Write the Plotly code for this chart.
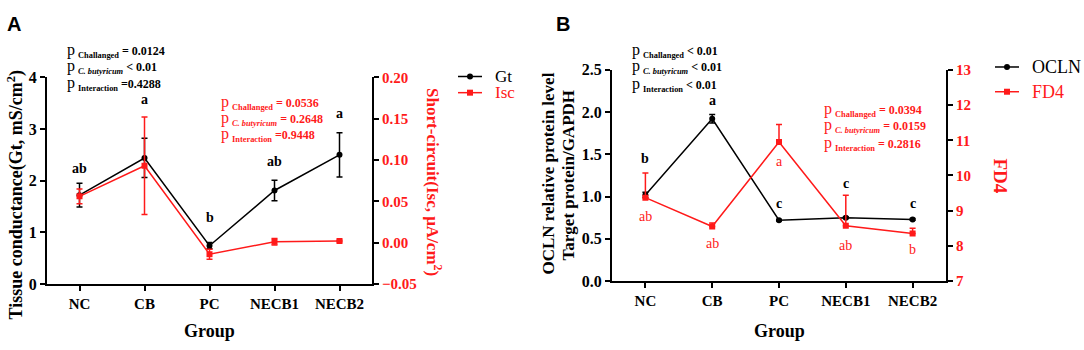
import plotly.graph_objects as go

W, H = 1084, 350
RED = "#FF1A1A"
SERIF = "Liberation Serif"

# ---------------- data ----------------
groups = ["NC", "CB", "PC", "NECB1", "NECB2"]

gt = [1.72, 2.44, 0.74, 1.81, 2.50]
gt_err = [0.23, 0.38, 0.06, 0.20, 0.43]
isc = [0.056, 0.093, -0.014, 0.001, 0.002]
isc_err = [0.009, 0.059, 0.006, 0.004, 0.001]
gt_letters = ["ab", "a", "b", "ab", "a"]

ocln = [1.02, 1.92, 0.72, 0.75, 0.73]
ocln_err = [0.03, 0.05, 0.01, 0.01, 0.01]
fd4 = [9.37, 8.55, 10.95, 8.57, 8.35]
fd4_err = [0.70, 0.10, 0.50, 0.87, 0.15]
ocln_letters = ["b", "a", "c", "c", "c"]
fd4_letters = ["ab", "ab", "a", "ab", "b"]

p_gt = ["= 0.0124", "< 0.01", "=0.4288"]
p_isc = ["= 0.0536", "= 0.2648", "=0.9448"]
p_ocln = ["< 0.01", "< 0.01", "< 0.01"]
p_fd4 = ["= 0.0394", "= 0.0159", "= 0.2816"]
p_terms = ["Challanged", "<i>C. butyricum</i>", "Interaction"]

# letter label positions (axis units of the left axes)
gt_letter_y = [2.23, 3.57, 1.29, 2.38, 3.31]
ocln_letter_y = [1.45, 2.14, 0.92, 1.16, 0.92]
fd4_letter_y = [0.76, 0.44, 1.41, 0.42, 0.37]


def px(x):
    return x / W


def py(y):
    return 1 - y / H


fig = go.Figure()

# ---------------- panel A ----------------
fig.add_trace(go.Scatter(
    x=groups, y=gt, name="Gt", mode="lines+markers",
    line=dict(color="black", width=1.5),
    marker=dict(symbol="circle", size=6, color="black"),
    error_y=dict(type="data", array=gt_err, color="black", thickness=1.5, width=3),
    xaxis="x", yaxis="y", showlegend=False))
fig.add_trace(go.Scatter(
    x=groups, y=isc, name="Isc", mode="lines+markers",
    line=dict(color=RED, width=1.5),
    marker=dict(symbol="square", size=6, color=RED),
    error_y=dict(type="data", array=isc_err, color=RED, thickness=1.5, width=3),
    xaxis="x", yaxis="y2", showlegend=False))

# ---------------- panel B ----------------
fig.add_trace(go.Scatter(
    x=groups, y=ocln, name="OCLN", mode="lines+markers",
    line=dict(color="black", width=1.5),
    marker=dict(symbol="circle", size=6, color="black"),
    error_y=dict(type="data", array=ocln_err, color="black", thickness=1.5, width=3),
    xaxis="x2", yaxis="y3", showlegend=False))
fig.add_trace(go.Scatter(
    x=groups, y=fd4, name="FD4", mode="lines+markers",
    line=dict(color=RED, width=1.5),
    marker=dict(symbol="square", size=6, color=RED),
    error_y=dict(type="data", symmetric=False, array=fd4_err,
                 arrayminus=[0] * len(fd4_err), color=RED, thickness=1.5, width=3),
    xaxis="x2", yaxis="y4", showlegend=False))

axis_common = dict(showline=True, linecolor="black", linewidth=2, ticks="outside",
                   ticklen=5, tickwidth=2, tickcolor="black", showgrid=False,
                   zeroline=False)
xtick_font = dict(family=SERIF, size=15, color="black", weight="bold")
ytick_font = dict(family=SERIF, size=16, color="black", weight="bold")
rtick_font = dict(family=SERIF, size=15, color=RED, weight="bold")

fig.update_layout(
    width=W, height=H,
    margin=dict(l=0, r=0, t=0, b=0),
    paper_bgcolor="white", plot_bgcolor="white",
    xaxis=dict(domain=[px(47), px(372)], anchor="y", type="category",
               range=[-0.5, 4.5], tickfont=xtick_font, **axis_common),
    yaxis=dict(domain=[py(290), py(73)], anchor="x", range=[0, 4], dtick=1,
               tickfont=ytick_font, **axis_common),
    yaxis2=dict(overlaying="y", anchor="x", side="right", range=[-0.05, 0.20],
                dtick=0.05, tickformat=".2f", tickfont=rtick_font, **axis_common),
    xaxis2=dict(domain=[px(612), px(946)], anchor="y3", type="category",
                range=[-0.5, 4.5], tickfont=xtick_font, **axis_common),
    yaxis3=dict(domain=[py(287), py(65)], anchor="x2", range=[0, 2.5], dtick=0.5,
                tickformat=".1f", tickfont=ytick_font, **axis_common),
    yaxis4=dict(overlaying="y3", anchor="x2", side="right", range=[7, 13], dtick=1,
                tickfont=rtick_font, **axis_common),
)

ann = []


def text_ann(x, y, text, size, color="black", angle=0, bold=True, xanchor="center",
             family=SERIF):
    ann.append(dict(x=px(x), y=py(y), xref="paper", yref="paper", text=text,
                    showarrow=False, textangle=angle, xanchor=xanchor, yanchor="middle",
                    font=dict(family=family, size=size, color=color,
                              weight="bold" if bold else "normal")))


# panel letters
text_ann(14, 17, "A", 20, family="Liberation Sans")
text_ann(563, 17, "B", 20, family="Liberation Sans")

# axis titles
text_ann(16, 197, "Tissue conductance(Gt, mS/cm<sup>2</sup>)", 18, angle=-90)
text_ann(434, 183, "Short-circuit(Isc, μA/cm<sup>2</sup>)", 17, color=RED, angle=90)
text_ann(209, 339, "Group", 18)
text_ann(549, 174, "OCLN relative protein level", 17, angle=-90)
text_ann(568, 176, "Target protein/GAPDH", 17, angle=-90)
text_ann(1001, 176, "FD4", 19, color=RED, angle=90)
text_ann(779, 339, "Group", 18)


# p-value blocks
def p_block(x0, ys, vals, color):
    for y, term, v in zip(ys, p_terms, vals):
        txt = ("<span style='font-size:16px;font-weight:normal'>p</span> "
               "<sub>%s</sub> %s" % (term, v))
        ann.append(dict(x=px(x0), y=py(y), xref="paper", yref="paper", text=txt,
                        showarrow=False, xanchor="left", yanchor="middle",
                        font=dict(family=SERIF, size=12, color=color, weight="bold")))


p_block(65, [45, 62, 79], p_gt, "black")
p_block(219, [99, 116, 133], p_isc, RED)
p_block(630, [45, 62, 80], p_ocln, "black")
p_block(822, [107, 124, 142], p_fd4, RED)

# significance letters (data coordinates)
for g, t, y in zip(groups, gt_letters, gt_letter_y):
    ann.append(dict(x=g, y=y, xref="x", yref="y", text=t, showarrow=False,
                    font=dict(family=SERIF, size=14, color="black", weight="bold")))
for g, t, y in zip(groups, ocln_letters, ocln_letter_y):
    ann.append(dict(x=g, y=y, xref="x2", yref="y3", text=t, showarrow=False,
                    font=dict(family=SERIF, size=14, color="black", weight="bold")))
for g, t, y in zip(groups, fd4_letters, fd4_letter_y):
    ann.append(dict(x=g, y=y, xref="x2", yref="y3", text=t, showarrow=False,
                    font=dict(family=SERIF, size=14, color=RED, weight="normal")))

# manual legends
shapes = []


def legend_item(x0, x1, y, color, symbol, label, size):
    shapes.append(dict(type="line", xref="paper", yref="paper", x0=px(x0), x1=px(x1),
                       y0=py(y), y1=py(y), line=dict(color=color, width=1.5)))
    xm, ym = px((x0 + x1) / 2), py(y)
    shapes.append(dict(type="circle" if symbol == "circle" else "rect",
                       xref="paper", yref="paper", xsizemode="pixel", ysizemode="pixel",
                       xanchor=xm, yanchor=ym, x0=-3, x1=3, y0=-3, y1=3,
                       fillcolor=color, line=dict(color=color, width=0)))
    ann.append(dict(x=px(x1 + 11), y=py(y), xref="paper", yref="paper", text=label,
                    showarrow=False, xanchor="left", yanchor="middle",
                    font=dict(family=SERIF, size=size, color=color)))


legend_item(458, 482, 72, "black", "circle", "Gt", 17)
legend_item(458, 482, 89, RED, "square", "Isc", 17)
legend_item(995, 1019, 62, "black", "circle", "OCLN", 18)
legend_item(995, 1019, 88, RED, "square", "FD4", 18)

fig.update_layout(annotations=ann, shapes=shapes)

fig.write_html("out.html",
               config={"displayModeBar": False},
               post_script="document.body.style.margin='0';document.body.style.overflow='hidden';")
